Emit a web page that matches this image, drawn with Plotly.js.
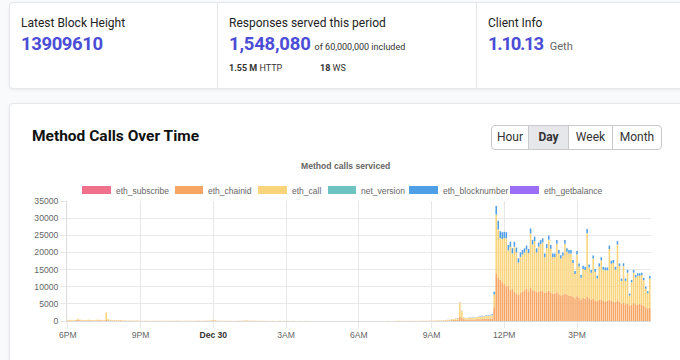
<!DOCTYPE html>
<html><head><meta charset="utf-8">
<script src="https://cdn.plot.ly/plotly-3.0.1.min.js"></script>
<style>
body{margin:0;width:680px;height:360px;overflow:hidden;background:#f9fafb;font-family:Roboto,'Liberation Sans',sans-serif;position:relative;color:#1f2937;}
.card{position:absolute;background:#fff;border:1px solid #e5e7eb;box-shadow:0 1px 3px rgba(0,0,0,0.07);border-radius:4px;}
.vdiv{position:absolute;width:1px;background:#e5e7eb;top:2px;height:86px;}
.abs{position:absolute;white-space:nowrap;}
.lbl{font-size:12px;line-height:12px;color:#222;}
.big{font-size:18.5px;line-height:19px;font-weight:700;color:#4b4dd6;}
.small{font-size:9px;line-height:9px;color:#333;font-weight:400;}
.btns{position:absolute;left:491px;top:125px;height:23px;border:1px solid #c9c9c9;border-radius:4px;display:flex;overflow:hidden;background:#fff;}
.btns div{font-size:12px;color:#333;line-height:23px;text-align:center;border-right:1px solid #c9c9c9;}
.btns div:last-child{border-right:none;}
#chart{position:absolute;left:0;top:150px;width:680px;height:210px;}
#chart .point path{shape-rendering:auto !important;}
</style></head>
<body>
<div class="card" style="left:9px;top:2px;width:720px;height:85px;"></div>
<div class="vdiv" style="left:217px;"></div>
<div class="vdiv" style="left:476px;"></div>
<div class="abs lbl" style="left:21px;top:17px;">Latest Block Height</div>
<div class="abs big" style="left:21px;top:35px;letter-spacing:-0.4px;">13909610</div>
<div class="abs lbl" style="left:229px;top:17px;">Responses served this period</div>
<div class="abs big" style="left:229px;top:35px;"><span style="letter-spacing:-0.2px;">1,548,080</span><span style="font-size:9px;color:#333;font-weight:400;margin-left:4px;">of 60,000,000 included</span></div>
<div class="abs small" style="left:229px;top:64px;"><b>1.55 M</b> HTTP</div>
<div class="abs small" style="left:320px;top:64px;"><b>18</b> WS</div>
<div class="abs lbl" style="left:488px;top:17px;">Client Info</div>
<div class="abs big" style="left:488px;top:35px;"><span style="letter-spacing:-1.3px;">1.10.13</span><span style="font-size:11px;color:#666;font-weight:400;margin-left:7px;">Geth</span></div>

<div class="card" style="left:9px;top:103px;width:720px;height:300px;"></div>
<div class="abs" style="left:32px;top:128px;font-size:15.5px;line-height:16px;font-weight:700;color:#111;">Method Calls Over Time</div>
<div class="btns">
  <div style="width:36px;">Hour</div>
  <div style="width:39px;background:#e5e7eb;font-weight:700;">Day</div>
  <div style="width:43px;">Week</div>
  <div style="width:48px;">Month</div>
</div>
<div id="chart"></div>
<script>
// ---- data (5-minute bins) ----
const seriesStart = {day: 29, hour: 18, minute: 0};   // Dec 29, 6PM
const blockStart  = {day: 30, hour: 9,  minute: 0};   // Dec 30, 9AM

const chainidCalls = [
  150,180,160,170,200,350,220,180,170,160,180,190,   // 18h
  170,160,180,190,200,170,160,300,250,180,170,160,   // 19h
  150,140,200,120,100,90,80,70,80,60,70,60,          // 20h
  50,40,50,40,30,40,50,40,30,40,30,40,               // 21h
  30,40,30,30,40,30,50,40,30,30,40,30,               // 22h
  40,30,30,40,50,40,30,40,50,60,80,100,              // 23h
  200,120,60,50,40,40,50,40,30,40,30,30,             // 00h
  40,50,60,80,100,90,80,70,60,50,40,30,              // 01h
  30,20,30,20,20,30,20,20,30,20,20,20,               // 02h
  20,20,10,20,20,10,20,20,10,20,20,10,               // 03h
  10,20,10,10,20,10,10,20,10,10,20,10,               // 04h
  10,10,20,10,10,20,10,10,20,10,10,20,               // 05h
  10,20,10,20,10,10,20,10,20,10,20,10,               // 06h
  20,10,20,20,10,20,20,30,20,20,30,20,               // 07h
  20,30,30,40,30,40,30,40,50,40,50,60,               // 08h
  60,80,70,90,100,120,110,150,180,200,250,300,       // 09h
  350,400,1200,900,500,450,400,500,450,400,500,550,  // 10h
  500,600,550,700,650,600,700,4000,13900,12600,12000,11300, // 11h
  10700,10000,10300,9000,9500,8500,8000,7600,8300,8500,9000,9500, // 12h
  8700,9700,9000,8800,8400,8600,8900,8700,8200,8400,8800,8300,     // 13h
  7900,8000,8400,7800,7500,7700,8000,7600,7300,7400,7000,6600,     // 14h
  7200,6800,6300,6700,6500,7000,6600,6200,6400,6000,5800,6100,     // 15h
  6300,5900,5700,5800,6200,5900,5700,5500,6000,5600,5000,5400,     // 16h
  4900,5100,4500,4800,5200,4900,4700,5000,4800,4400,4000,3700,     // 17h
  3900                                                             // 18h
];
const callCalls = [
  120,150,130,140,160,300,180,150,140,130,150,160,
  150,140,160,170,180,150,140,2200,350,160,150,140,
  120,110,150,90,80,70,60,60,60,50,60,50,
  40,30,40,30,30,30,40,30,30,30,30,30,
  30,30,20,30,30,20,40,30,20,30,30,20,
  30,30,20,30,40,30,20,30,40,50,60,80,
  180,100,50,40,30,30,40,30,30,30,20,30,
  30,40,50,60,80,70,60,50,40,40,30,30,
  20,20,20,20,10,20,20,10,20,20,10,20,
  10,20,10,10,20,10,10,20,10,10,20,10,
  10,10,10,20,10,10,10,10,20,10,10,10,
  10,20,10,10,10,10,20,10,10,10,20,10,
  20,10,10,10,20,10,10,20,10,10,10,20,
  10,20,10,20,20,10,20,20,30,20,20,30,
  20,20,30,30,30,30,30,40,40,40,40,50,
  50,60,60,70,80,100,100,120,150,180,200,250,
  300,400,4200,2000,500,400,450,500,550,600,500,600,
  700,800,750,900,800,900,1000,3750,17100,14100,12200,12600,
  13500,14100,10300,12600,10200,13200,12000,9400,10400,10900,11000,11300,
  11100,15800,13300,14500,11600,13100,13500,14200,10400,12900,14900,12800,
  10700,10700,14100,11900,10700,11300,14500,12600,12400,12300,9900,7100,
  12200,9100,6300,8500,8400,18600,9000,7900,11800,8400,6600,9800,
  11400,9100,9100,9000,14800,10800,11200,9500,16300,10400,6700,10600,
  6800,9000,2900,6500,8900,7800,8500,8200,8600,7500,5400,4400,
  8500
];
const blocknumberCalls = [
  0,0,10,10,10,20,20,20,30,30,40,50,                 // 09h
  50,60,100,80,60,60,70,80,80,90,90,100,             // 10h
  100,120,110,130,120,150,300,800,2500,2500,2000,2000, // 11h
  1800,1800,1600,1500,1500,1400,1400,1300,1300,1300,1200,1200,
  1200,1500,1300,1300,1200,1200,1200,1200,1100,1100,1200,1100,
  1100,1000,1100,1000,1000,1000,1100,1000,1000,1000,900,900,
  1000,900,800,900,900,1200,900,800,900,800,800,900,
  900,800,800,800,1000,900,900,800,1000,800,700,800,
  700,800,600,700,800,700,700,700,700,700,600,600,
  700
];
const subscribeTimes = ['2021-12-29 18:25','2021-12-29 19:35','2021-12-30 10:10','2021-12-30 11:45','2021-12-30 12:30','2021-12-30 14:05','2021-12-30 16:40'];
const subscribeCalls = [2,3,2,4,3,2,2];
const netVersionTimes = ['2021-12-30 11:40','2021-12-30 12:20','2021-12-30 13:35','2021-12-30 15:25','2021-12-30 16:55'];
const netVersionCalls = [30,40,25,35,20];
const getbalanceTimes = ['2021-12-30 11:45','2021-12-30 13:00','2021-12-30 14:40','2021-12-30 17:10'];
const getbalanceCalls = [20,15,25,10];

const xTickVals = ['2021-12-29 18:00','2021-12-29 21:00','2021-12-30 00:00','2021-12-30 03:00','2021-12-30 06:00','2021-12-30 09:00','2021-12-30 12:00','2021-12-30 15:00'];
const xTickLabels = ['6PM','9PM','<b><span style="color:#333">Dec 30</span></b>','3AM','6AM','9AM','12PM','3PM'];

const seriesNames = ['eth_subscribe','eth_chainid','eth_call','net_version','eth_blocknumber','eth_getbalance'];
const seriesColors = ['#f0718c','#f6a562','#fad47a','#6cc3c2','#4f9fe6','#9b6ff5'];

// ---- build ----
function pad(n){return (n<10?'0':'')+n;}
function binLabels(start, n){
  const out=[];
  for(let i=0;i<n;i++){
    const tot = start.hour*60 + start.minute + 5*i;
    const d = start.day + Math.floor(tot/1440);
    const m = tot % 1440;
    out.push('2021-12-'+d+' '+pad(Math.floor(m/60))+':'+pad(m%60));
  }
  return out;
}
const xMain = binLabels(seriesStart, chainidCalls.length);
const xBlock = binLabels(blockStart, blocknumberCalls.length);
const W = 230000;
function bar(i, x, y){
  return {type:'bar', name:seriesNames[i], x:x, y:y, width:W,
          marker:{color:seriesColors[i], line:{width:0, color:seriesColors[i]}}, hoverinfo:'skip', showlegend:false};
}
const traces = [
  bar(0, subscribeTimes, subscribeCalls),
  bar(1, xMain, chainidCalls),
  bar(2, xMain, callCalls),
  bar(3, netVersionTimes, netVersionCalls),
  bar(4, xBlock, blocknumberCalls),
  bar(5, getbalanceTimes, getbalanceCalls)
];

// plot area in page px: x 67..651, y 201..321
const L=67, R=651, T=201, B=321;
const px = v => (v-L)/(R-L);
const py = v => (B-v)/(B-T);
const legendBoxes = [[82,111],[175,203],[258,287],[328,356],[409,438],[510,539]];
const legendText = [115,207,291,360,442,543];
const shapes = [], annotations = [];
const chartFont = 'Liberation Sans, Arial, sans-serif';
seriesNames.forEach((n,i)=>{
  shapes.push({type:'rect', xref:'paper', yref:'paper', x0:px(legendBoxes[i][0]), x1:px(legendBoxes[i][1]),
    y0:py(194), y1:py(186), fillcolor:seriesColors[i], line:{width:0}});
  annotations.push({xref:'paper', yref:'paper', x:px(legendText[i]), y:py(190.5), xanchor:'left', yanchor:'middle',
    text:n, showarrow:false, borderpad:0, font:{size:8.5, color:'#666', family:chartFont}});
});
annotations.push({xref:'paper', yref:'paper', x:px(345), y:py(166), xanchor:'center', yanchor:'middle',
  text:'<b>Method calls serviced</b>', showarrow:false, font:{size:8.6, color:'#666', family:chartFont}});

const layout = {
  width:680, height:210,
  margin:{l:L, r:680-R, t:T-150, b:360-B, pad:0},
  paper_bgcolor:'rgba(0,0,0,0)', plot_bgcolor:'rgba(0,0,0,0)',
  barmode:'stack', showlegend:false,
  font:{family:chartFont, size:8.6, color:'#666'},
  xaxis:{type:'date', range:['2021-12-29 17:58','2021-12-30 18:03'], tickmode:'array',
    tickvals:xTickVals, ticktext:xTickLabels, showgrid:true, gridcolor:'#e8e8e8', gridwidth:1,
    ticks:'outside', ticklen:6, tickcolor:'#e8e8e8', showline:true, linecolor:'#dcdcdc',
    tickfont:{size:8.6, color:'#666'}, fixedrange:true},
  yaxis:{range:[0,35000], dtick:5000, tick0:0, tickformat:'d', showgrid:true, gridcolor:'#e8e8e8',
    ticks:'outside', ticklen:6, tickcolor:'#e8e8e8', showline:true, linecolor:'#dcdcdc', zeroline:false,
    tickfont:{size:8.6, color:'#666'}, fixedrange:true},
  shapes:shapes, annotations:annotations
};
Plotly.newPlot('chart', traces, layout, {staticPlot:true, displayModeBar:false});
</script>
</body></html>
